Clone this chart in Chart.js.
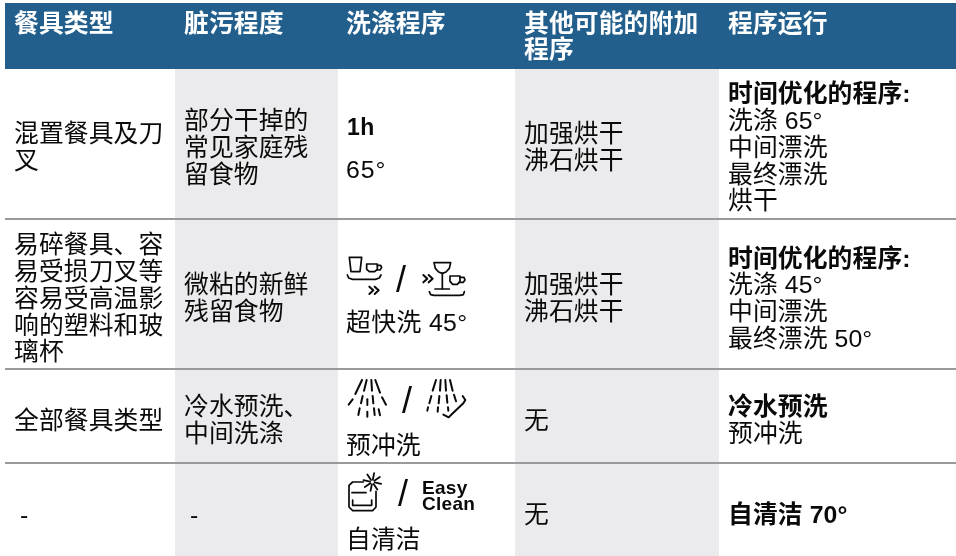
<!DOCTYPE html>
<html>
<head>
<meta charset="utf-8">
<script src="https://cdn.jsdelivr.net/npm/chart.js@4"></script>
<style>
html, body { margin: 0; padding: 0; background: #fff; }
#wrap { width: 956px; height: 556px; }
</style>
</head>
<body>
<div id="wrap"><canvas id="table" width="956" height="556"></canvas></div>
<script>
// table content
var headers = [['餐具类型'], ['脏污程度'], ['洗涤程序'], ['其他可能的附加', '程序'], ['程序运行']];
var dishTypes = [['混置餐具及刀', '叉'], ['易碎餐具、容', '易受损刀叉等', '容易受高温影', '响的塑料和玻', '璃杯'], ['全部餐具类型'], ['-']];
var soilLevels = [['部分干掉的', '常见家庭残', '留食物'], ['微粘的新鲜', '残留食物'], ['冷水预洗、', '中间洗涤'], ['-']];
var extraOptions = [['加强烘干', '沸石烘干'], ['加强烘干', '沸石烘干'], ['无'], ['无']];
var runTitles = ['时间优化的程序:', '时间优化的程序:', '冷水预洗', '自清洁 70°'];
var runSteps = [['洗涤 65°', '中间漂洗', '最终漂洗', '烘干'], ['洗涤 45°', '中间漂洗', '最终漂洗 50°'], ['预冲洗'], []];
var programNames = ['65°', '超快洗 45°', '预冲洗', '自清洁'];

// table grid, in picture units
var tableLeft = 5, tableRight = 956, tableTop = 3, tableBottom = 556;
var headerBottom = 69;
var ruleRows = [219, 369, 463];
var shadedCols = [[175, 338], [515, 719]];
var textCols = [14, 184, 346, 524, 728];
var rowMiddles = [149, 300, 422, 516];

var blue = '#225f8d', shade = '#ebebed', ruleColor = '#999a9c', ink = '#0a0a0a';
var latin = '"Liberation Sans","Noto Sans CJK SC"';
var lineGap = 26.8;
var bodyFont = '24.8px ' + latin, boldFont = 'bold 24.8px ' + latin, gap = '0.1px';

function box(x0, x1, y0, y1, color, order) {
    return {
        data: [{x: x0, y: y0}, {x: x1, y: y0}, {x: x1, y: y1}, {x: x0, y: y1}, {x: x0, y: y0}],
        fill: 'shape', backgroundColor: color, borderWidth: 0, pointRadius: 0, tension: 0, order: order
    };
}
function rule(y) {
    return {
        data: [{x: tableLeft, y: y}, {x: tableRight, y: y}],
        borderColor: ruleColor, borderWidth: 2, pointRadius: 0, fill: false, order: 1
    };
}

var datasets = [box(tableLeft, tableRight, tableTop, headerBottom, blue, 3)];
shadedCols.forEach(function (c) {
    datasets.push(box(c[0], c[1], headerBottom, tableBottom, shade, 2));
});
ruleRows.forEach(function (y) {
    datasets.push(rule(y));
});

function put(ctx, text, x, y, font, color, spacing) {
    ctx.font = font;
    ctx.fillStyle = color;
    ctx.letterSpacing = spacing;
    ctx.textBaseline = 'middle';
    ctx.textAlign = 'left';
    ctx.fillText(text, x, y);
}

function block(ctx, lines, x, middle) {
    var y = middle - (lines.length - 1) * lineGap / 2;
    lines.forEach(function (l, i) {
        put(ctx, l, x, y + i * lineGap, bodyFont, ink, gap);
    });
}

// icons are traced in 3x crop coordinates around an origin
function strokes(ctx, ox, oy, paths, width) {
    ctx.save();
    ctx.translate(ox, oy);
    ctx.scale(1 / 3, 1 / 3);
    ctx.lineWidth = width * 3;
    ctx.strokeStyle = ink;
    ctx.lineCap = 'round';
    ctx.lineJoin = 'round';
    paths.forEach(function (p) {
        ctx.beginPath();
        ctx.moveTo(p[0], p[1]);
        for (var i = 2; i < p.length; i += 2) ctx.lineTo(p[i], p[i + 1]);
        ctx.stroke();
    });
    ctx.restore();
}

function chevrons(ctx, ox, oy, x, y) {
    strokes(ctx, ox, oy, [
        [x, y, x + 12, y + 11, x, y + 22],
        [x + 16, y, x + 28, y + 11, x + 16, y + 22]
    ], 2);
}

function cupIcons(ctx, ox, oy) {
    strokes(ctx, ox, oy, [
        [58, 52, 95, 52, 90, 95, 63, 95, 58, 52],
        [110, 72, 142, 72, 142, 88, 134, 95, 118, 95, 110, 88, 110, 72],
        [142, 76, 152, 76, 155, 82, 150, 90, 140, 90],
        [52, 105, 56, 114, 68, 118, 136, 118, 148, 114, 153, 105],
        [312, 68, 362, 68, 358, 85, 348, 96, 337, 100, 326, 96, 316, 85, 312, 68],
        [337, 100, 337, 146],
        [315, 147, 358, 147],
        [360, 108, 390, 108, 390, 124, 382, 133, 368, 133, 360, 124, 360, 108],
        [390, 112, 402, 112, 405, 120, 400, 127, 388, 127],
        [298, 155, 302, 164, 312, 166, 390, 166, 400, 164, 403, 155]
    ], 1.7);
    chevrons(ctx, ox, oy, 118, 140);
    chevrons(ctx, ox, oy, 280, 105);
}

function sprayIcons(ctx, ox, oy) {
    strokes(ctx, ox, oy, [
        [96, 30, 76, 72], [68, 88, 56, 104],
        [110, 30, 102, 62], [98, 78, 93, 100], [89, 115, 85, 135],
        [124, 30, 126, 62], [128, 78, 130, 100], [132, 115, 134, 135],
        [136, 30, 150, 68], [156, 82, 168, 104],
        [112, 125, 112, 140], [112, 88, 112, 105],
        [146, 118, 150, 136],
        [318, 30, 308, 62], [304, 78, 298, 100], [294, 112, 292, 122],
        [332, 30, 330, 62], [328, 78, 326, 100], [324, 112, 323, 125],
        [346, 30, 348, 62], [350, 76, 352, 98], [354, 112, 355, 122],
        [360, 30, 368, 62], [372, 74, 378, 94],
        [340, 134, 356, 142, 366, 132, 400, 100, 406, 90, 398, 78]
    ], 2);
}

function ovenIcon(ctx, ox, oy) {
    var spikes = [];
    for (var i = 0; i < 8; i++) {
        var a = i * Math.PI / 4 + 0.2;
        spikes.push([127 + 7 * Math.cos(a), 60 + 7 * Math.sin(a), 127 + 27 * Math.cos(a), 60 + 27 * Math.sin(a)]);
    }
    strokes(ctx, ox, oy, [
        [100, 60, 68, 60, 57, 70, 57, 135, 68, 146, 128, 146, 138, 135, 138, 88],
        [66, 92, 108, 92],
        [68, 114, 68, 130, 125, 130, 125, 114]
    ], 1.7);
    strokes(ctx, ox, oy, spikes, 1.8);
}

var tableText = {
    id: 'tableText',
    afterDatasetsDraw: function (chart) {
        var ctx = chart.ctx, sx = chart.scales.x, sy = chart.scales.y;
        var colX = textCols.map(function (v) { return sx.getPixelForValue(v); });

        ctx.save();
        // header row
        headers.forEach(function (lines, c) {
            lines.forEach(function (l, i) {
                put(ctx, l, colX[c], sy.getPixelForValue(25 + i * 26.5), boldFont, '#fff', gap);
            });
        });

        // plain text columns
        rowMiddles.forEach(function (m, r) {
            var y = sy.getPixelForValue(m);
            var dx = dishTypes[r][0] === '-' ? 6 : 0;
            block(ctx, dishTypes[r], colX[0] + dx, y);
            block(ctx, soilLevels[r], colX[1] + dx, y);
            block(ctx, extraOptions[r], colX[3], y);

            var steps = runSteps[r];
            var top = y - steps.length * lineGap / 2;
            put(ctx, runTitles[r], colX[4], top, boldFont, ink, gap);
            steps.forEach(function (s, i) {
                put(ctx, s, colX[4], top + (i + 1) * lineGap, bodyFont, ink, gap);
            });
        });

        // washing programme column
        var cx = colX[2];
        var slash = '36px ' + latin;
        put(ctx, '1h', cx + 1, sy.getPixelForValue(129), 'bold 23px ' + latin, ink, '0.5px');
        put(ctx, programNames[0], cx, sy.getPixelForValue(171), bodyFont, ink, '1px');
        cupIcons(ctx, sx.getPixelForValue(330), sy.getPixelForValue(240));
        put(ctx, '/', sx.getPixelForValue(396), sy.getPixelForValue(282), slash, ink, '0');
        put(ctx, programNames[1], cx, sy.getPixelForValue(324), bodyFont, ink, '0.4px');
        sprayIcons(ctx, sx.getPixelForValue(330), sy.getPixelForValue(370));
        put(ctx, '/', sx.getPixelForValue(402), sy.getPixelForValue(403), slash, ink, '0');
        put(ctx, programNames[2], cx, sy.getPixelForValue(447), bodyFont, ink, gap);
        ovenIcon(ctx, sx.getPixelForValue(330), sy.getPixelForValue(462));
        put(ctx, '/', sx.getPixelForValue(398), sy.getPixelForValue(496), slash, ink, '0');
        put(ctx, 'Easy', sx.getPixelForValue(422), sy.getPixelForValue(489), 'bold 19px ' + latin, ink, '0.3px');
        put(ctx, 'Clean', sx.getPixelForValue(422), sy.getPixelForValue(505), 'bold 19px ' + latin, ink, '0.3px');
        put(ctx, programNames[3], cx, sy.getPixelForValue(541), bodyFont, ink, gap);
        ctx.restore();
    }
};

new Chart(document.getElementById('table').getContext('2d'), {
    type: 'line',
    data: { datasets: datasets },
    options: {
        responsive: false,
        animation: false,
        parsing: false,
        layout: { padding: 0 },
        plugins: { legend: { display: false }, tooltip: { enabled: false }, title: { display: false } },
        scales: {
            x: { type: 'linear', min: 0, max: 956, display: false },
            y: { type: 'linear', min: 0, max: 556, reverse: true, display: false }
        }
    },
    plugins: [tableText]
});
</script>
</body>
</html>
